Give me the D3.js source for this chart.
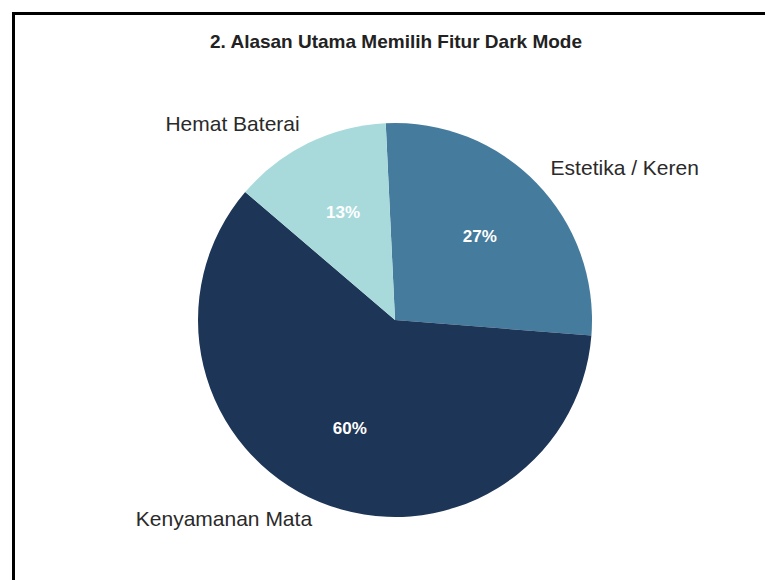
<!DOCTYPE html>
<html>
<head>
<meta charset="utf-8">
<script src="https://cdn.jsdelivr.net/npm/d3@7"></script>
<style>
  html, body { margin: 0; padding: 0; background: #fff; }
  svg { display: block; }
</style>
</head>
<body>
<svg id="chart" width="765" height="580"></svg>
<script>
const categories = ["Estetika / Keren", "Kenyamanan Mata", "Hemat Baterai"];
const values = [27, 60, 13];
const colors = ["#457b9d", "#1d3557", "#a8dadc"];
const title = "2. Alasan Utama Memilih Fitur Dark Mode";

const svg = d3.select("#chart");
const W = 765, H = 580;

svg.append("rect").attr("width", W).attr("height", H).attr("fill", "#fff");

// frame (top and left edges visible)
svg.append("path")
  .attr("d", "M13.5,580 L13.5,13.5 L765,13.5")
  .attr("fill", "none").attr("stroke", "#000").attr("stroke-width", 3);

svg.append("text")
  .attr("x", 396).attr("y", 43)
  .attr("text-anchor", "middle").attr("dominant-baseline", "middle")
  .attr("font-family", "Liberation Sans, Arial, sans-serif")
  .attr("font-weight", "bold").attr("font-size", 19)
  .attr("fill", "#222")
  .text(title);

const cx = 395, cy = 320, R = 197;
const offset = -2.7 * Math.PI / 180;

const data = categories.map((c, i) => ({ label: c, value: values[i], color: colors[i] }));
const pie = d3.pie().value(d => d.value).sort(null)
  .startAngle(offset).endAngle(offset + 2 * Math.PI);
const arcs = pie(data);

const arc = d3.arc().innerRadius(0).outerRadius(R);
const inner = d3.arc().innerRadius(R * 0.6).outerRadius(R * 0.6);
const outer = d3.arc().innerRadius(R * 1.1).outerRadius(R * 1.1);

const g = svg.append("g").attr("transform", `translate(${cx},${cy})`);

g.selectAll("path.slice").data(arcs).join("path")
  .attr("class", "slice")
  .attr("d", arc)
  .attr("fill", d => d.data.color)
  .attr("stroke", "none");

g.selectAll("text.pct").data(arcs).join("text")
  .attr("class", "pct")
  .attr("transform", d => `translate(${inner.centroid(d)})`)
  .attr("text-anchor", "middle").attr("dominant-baseline", "middle")
  .attr("font-family", "Liberation Sans, Arial, sans-serif")
  .attr("font-weight", "bold").attr("font-size", 17)
  .attr("fill", "#fff")
  .text(d => d.data.value + "%");

g.selectAll("text.lbl").data(arcs).join("text")
  .attr("class", "lbl")
  .attr("transform", d => `translate(${outer.centroid(d)})`)
  .attr("text-anchor", d => outer.centroid(d)[0] < 0 ? "end" : "start")
  .attr("dominant-baseline", "middle")
  .attr("font-family", "Liberation Sans, Arial, sans-serif")
  .attr("font-size", 21)
  .attr("fill", "#2a2a2a")
  .text(d => d.data.label);
</script>
</body>
</html>
